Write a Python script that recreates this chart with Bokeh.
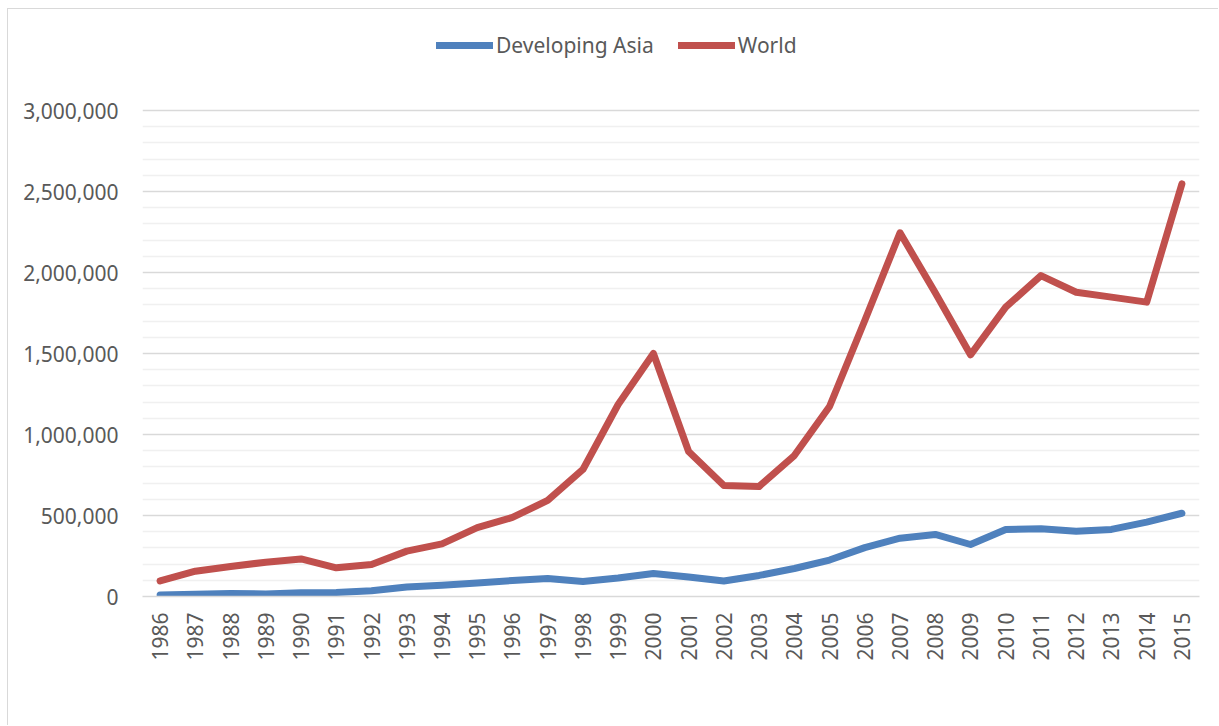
from bokeh.plotting import figure
from bokeh.models import (ColumnDataSource, FactorRange, Range1d, FixedTicker,
                          NumeralTickFormatter, Legend, LegendItem)
from bokeh.embed import file_html
from bokeh.resources import INLINE

# Annual values, 1986-2015
years = [str(y) for y in range(1986, 2016)]
developing_asia = [10000, 14000, 18000, 16000, 23000, 25000, 35000, 58000, 70000, 83000,
                   99000, 111000, 93000, 114000, 142000, 120000, 96000, 130000, 173000, 225000,
                   302000, 360000, 383000, 321000, 414000, 418000, 403000, 414000, 459000, 514000]
world = [96000, 156000, 185000, 212000, 232000, 177000, 197000, 280000, 325000, 425000,
         488000, 593000, 784000, 1185000, 1500000, 895000, 685000, 679000, 870000, 1173000,
         1704000, 2245000, 1875000, 1492000, 1786000, 1981000, 1878000, 1848000, 1817000, 2547000]

y_major = [0, 500000, 1000000, 1500000, 2000000, 2500000, 3000000]
y_minor = [v for v in range(100000, 3000000, 100000) if v % 500000]

FONT = "Noto Sans"
TEXT = "#595959"

src = ColumnDataSource(dict(year=years, asia=developing_asia, world=world))

# the frame extends above the 3,000,000 line to leave room for the legend
p = figure(width=1211, height=717, x_range=FactorRange(*years),
           y_range=Range1d(0, 3555556), output_backend="svg", toolbar_location=None,
           min_border_left=134, min_border_right=20, min_border_top=11, min_border_bottom=130)
p.styles = {"margin-left": "7px", "margin-top": "8px",
            "border-left": "1px solid #d9d9d9", "border-top": "1px solid #d9d9d9"}
p.outline_line_color = None
p.background_fill_color = "white"
p.border_fill_color = "white"

r_asia = p.line("year", "asia", source=src, line_color="#4F81BD", line_width=7,
                line_cap="round", line_join="round")
r_world = p.line("year", "world", source=src, line_color="#C0504D", line_width=7,
                 line_cap="round", line_join="round")

# y axis: major every 500,000 with light minor lines every 100,000
p.yaxis.ticker = FixedTicker(ticks=y_major, minor_ticks=y_minor)
p.yaxis.formatter = NumeralTickFormatter(format="0,0")
p.yaxis.axis_line_color = None
p.yaxis.major_tick_line_color = None
p.yaxis.minor_tick_line_color = None
p.yaxis.major_label_standoff = 18
p.yaxis.major_label_text_font = FONT
p.yaxis.major_label_text_font_size = "21px"
p.yaxis.major_label_text_color = TEXT

p.ygrid.grid_line_color = "#d9d9d9"
p.ygrid.grid_line_width = 1.5
p.ygrid.minor_grid_line_color = "#f0f0f0"
p.ygrid.minor_grid_line_width = 1.5
p.xgrid.grid_line_color = None

p.xaxis.axis_line_color = "#d9d9d9"
p.xaxis.axis_line_width = 1.5
p.xaxis.major_tick_line_color = None
p.xaxis.minor_tick_line_color = None
p.xaxis.major_label_orientation = 1.5708
p.xaxis.major_label_standoff = 10
p.xaxis.major_label_text_font = FONT
p.xaxis.major_label_text_font_size = "21px"
p.xaxis.major_label_text_color = TEXT

legend = Legend(items=[LegendItem(label="Developing Asia", renderers=[r_asia]),
                       LegendItem(label="World", renderers=[r_world])],
                orientation="horizontal", location=(294, 537),
                glyph_width=57, glyph_height=20, label_standoff=3, spacing=24,
                padding=0, margin=0, border_line_color=None, background_fill_alpha=0,
                label_text_font=FONT, label_text_font_size="21px", label_text_color=TEXT)
p.add_layout(legend, "center")

open("out.html", "w").write(file_html(p, INLINE))
